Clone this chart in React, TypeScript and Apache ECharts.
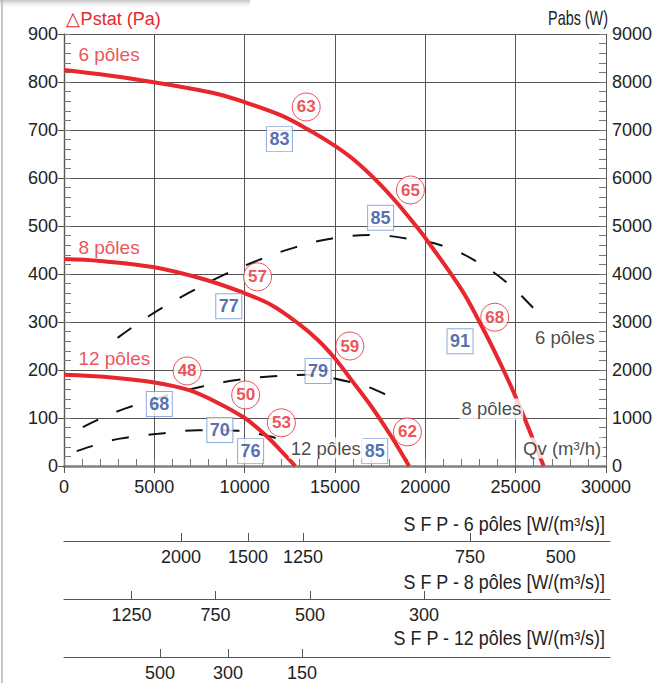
import React, { useEffect, useRef } from "react";
import * as echarts from "echarts";

// Static pressure curves (Qv m3/h, Pa)
const q6 = [0, 2000, 4176, 6923, 8500, 10000, 12051, 13700, 15000, 16080, 17363, 18462, 19377, 20000, 22000, 23000, 24000, 25000, 26550];
const ps6 = [825, 816, 804, 787, 775, 758, 730, 697, 667, 637, 592, 547, 505, 475, 368, 300, 226, 144, 0];
const q8 = [0, 2000, 5000, 7839, 10000, 11502, 12967, 14066, 15000, 15897, 16996, 18095, 19100];
const ps8 = [431, 427, 414, 388, 360, 335, 297, 262, 224, 180, 125, 63, 0];
const q12 = [0, 2500, 5000, 6923, 8388, 10000, 11136, 12051, 12800];
const ps12 = [190, 185, 174, 158, 134, 100, 65, 30, 0];

// Absorbed power curves (Qv m3/h, W)
const qw6 = [2967, 4725, 6923, 8846, 10769, 12747, 14835, 16923, 18956, 21099, 22967, 24615, 26154, 26593];
const pw6 = [2670, 3130, 3610, 3980, 4290, 4550, 4740, 4810, 4740, 4570, 4230, 3790, 3230, 3080];
const qw8 = [1044, 1978, 3407, 5275, 7473, 9560, 11593, 13516, 15714, 16813, 18297];
const pw8 = [810, 980, 1200, 1420, 1640, 1790, 1870, 1900, 1760, 1650, 1400];
const qw12 = [700, 1600, 3100, 5200, 7400, 9600, 11300, 12100];
const pw12 = [310, 420, 570, 670, 745, 735, 625, 540];

// Efficiency circles (red) and sound boxes (blue)
const circleQ = [13407, 19176, 23846, 10714, 15824, 19011, 6813, 10055, 12033];
const circleP = [748, 575, 310, 394, 250, 71, 198, 148, 90];
const circleText = ["63", "65", "68", "57", "59", "62", "48", "50", "53"];
const boxQ = [11923, 17527, 21923, 9121, 14066, 17198, 5275, 8626, 10330];
const boxP = [681, 517, 260, 333, 198, 31, 129, 75, 31];
const boxText = ["83", "85", "91", "77", "79", "85", "68", "70", "76"];

// Curve name labels
const redLabelQ = [769, 769, 769];
const redLabelP = [858, 456, 223];
const redLabelText = ["6 pôles", "8 pôles", "12 pôles"];
const blackLabelQ = [25934, 21868, 12418, 25275];
const blackLabelP = [267, 119, 37.5, 37.5];
const blackLabelText = ["6 pôles", "8 pôles", "12 pôles", "Qv (m³/h)"];

// SFP scales (position on Qv axis -> label)
const sfp6Q = [6429, 10110, 13132, 22308, 27300];
const sfp6Text = ["2000", "1500", "1250", "750", "500"];
const sfp6TickQ = [6429, 10110, 13132, 22308];
const sfp8Q = [3709, 8324, 13516, 19780];
const sfp8Text = ["1250", "750", "500", "300"];
const sfp12Q = [5275, 9011, 13077];
const sfp12Text = ["500", "300", "150"];

const RED = "#e8262d";
const BLUE_TEXT = "#2a4b9c";
const BLUE_BORDER = "#7395d6";
const SANS = '"Liberation Sans", Arial, sans-serif';

const zip = (a: number[], b: number[]) => a.map((v, i) => [v, b[i]]);
const plain = (v: number) => String(v);

function sfpAxis(grid: number, pos: number[], texts: string[], ticks: number[]) {
  return {
    gridIndex: grid,
    type: "value",
    min: 0,
    max: 30000,
    position: "bottom",
    axisLine: { show: true, lineStyle: { color: "#555", width: 1.2 } },
    axisTick: { show: true, inside: true, length: 8, customValues: ticks, lineStyle: { color: "#555", width: 1 } },
    axisLabel: {
      show: true,
      customValues: pos,
      margin: 7,
      fontSize: 18,
      fontFamily: SANS,
      color: "#222",
      formatter: (v: number) => {
        const i = pos.findIndex((p) => Math.abs(p - v) < 1);
        return i >= 0 ? texts[i] : "";
      },
    },
    splitLine: { show: false },
  };
}

export default function App() {
  const ref = useRef<HTMLDivElement>(null);
  useEffect(() => {
    document.body.style.margin = "0";
    const chart = echarts.init(ref.current!, null, { renderer: "svg" });
    const textSeries = (qs: number[], ps: number[], texts: string[], color: string, size: number, bg: boolean) => ({
      type: "scatter",
      xAxisIndex: 0,
      yAxisIndex: 0,
      symbolSize: 1,
      itemStyle: { color: "rgba(0,0,0,0)" },
      z: 6,
      data: qs.map((q, i) => [q, ps[i], texts[i]]),
      label: {
        show: true,
        position: "right",
        distance: 0,
        color,
        fontSize: size,
        fontFamily: SANS,
        backgroundColor: bg ? "#fff" : "transparent",
        padding: bg ? [1, 2] : 0,
        formatter: (p: any) => p.value[2],
      },
    });
    const titleText = (x: number, y: number, text: string, color: string, size: number, align: string, sx: number) => ({
      type: "text",
      x,
      y,
      scaleX: sx,
      style: { text, fill: color, font: `${size}px ${SANS}`, textAlign: align, textVerticalAlign: "middle" },
    });
    const option: any = {
      animation: false,
      backgroundColor: "#fff",
      grid: [
        { left: 64, top: 34, width: 546, height: 432 },
        { left: 64, top: 540, width: 546, height: 1 },
        { left: 64, top: 598, width: 546, height: 1 },
        { left: 64, top: 656, width: 546, height: 1 },
      ],
      xAxis: [
        {
          gridIndex: 0,
          type: "value",
          min: 0,
          max: 30000,
          interval: 5000,
          position: "bottom",
          axisLine: { show: true, lineStyle: { color: "#808080", width: 2.5 } },
          axisTick: { show: true, inside: false, length: 7, lineStyle: { color: "#555" } },
          axisLabel: { margin: 12, fontSize: 18, fontFamily: SANS, color: "#222", formatter: plain },
          splitLine: { show: true, lineStyle: { color: "#555", width: 1 } },
        },
        {
          gridIndex: 0,
          type: "value",
          min: 0,
          max: 30000,
          interval: 1000,
          position: "bottom",
          axisLine: { show: false },
          axisTick: { show: true, inside: true, length: 7, lineStyle: { color: "#777" } },
          axisLabel: { show: false },
          splitLine: { show: false },
        },
        sfpAxis(1, sfp6Q, sfp6Text, sfp6TickQ),
        sfpAxis(2, sfp8Q, sfp8Text, sfp8Q),
        sfpAxis(3, sfp12Q, sfp12Text, sfp12Q),
      ],
      yAxis: [
        {
          gridIndex: 0,
          type: "value",
          min: 0,
          max: 900,
          interval: 100,
          position: "left",
          axisLine: { show: true, lineStyle: { color: "#555", width: 1.2 } },
          axisTick: { show: true, inside: false, length: 6, lineStyle: { color: "#555" } },
          axisLabel: { margin: 6, fontSize: 18, fontFamily: SANS, color: "#222", formatter: plain },
          splitLine: { show: true, lineStyle: { color: "#555", width: 1 } },
        },
        {
          gridIndex: 0,
          type: "value",
          min: 0,
          max: 9000,
          interval: 1000,
          position: "right",
          axisLine: { show: true, lineStyle: { color: "#555", width: 1.2 } },
          axisTick: { show: true, inside: false, length: 6, lineStyle: { color: "#555" } },
          axisLabel: { margin: 6, fontSize: 18, fontFamily: SANS, color: "#222", formatter: plain },
          splitLine: { show: false },
        },
        {
          gridIndex: 0,
          type: "value",
          min: 0,
          max: 900,
          interval: 20,
          position: "left",
          axisLine: { show: false },
          axisTick: { show: true, inside: true, length: 7, lineStyle: { color: "#777" } },
          axisLabel: { show: false },
          splitLine: { show: false },
        },
        {
          gridIndex: 0,
          type: "value",
          min: 0,
          max: 9000,
          interval: 200,
          position: "right",
          axisLine: { show: false },
          axisTick: { show: true, inside: true, length: 7, lineStyle: { color: "#777" } },
          axisLabel: { show: false },
          splitLine: { show: false },
        },
        { gridIndex: 1, type: "value", show: false, min: 0, max: 1 },
        { gridIndex: 2, type: "value", show: false, min: 0, max: 1 },
        { gridIndex: 3, type: "value", show: false, min: 0, max: 1 },
      ],
      series: [
        ...[zip(qw6, pw6), zip(qw8, pw8), zip(qw12, pw12)].map((d) => ({
          type: "line",
          xAxisIndex: 0,
          yAxisIndex: 1,
          data: d,
          smooth: 0.4,
          symbol: "none",
          z: 2,
          lineStyle: { color: "#111", width: 2, type: [17, 20] },
        })),
        ...[zip(q6, ps6), zip(q8, ps8), zip(q12, ps12)].map((d) => ({
          type: "line",
          xAxisIndex: 0,
          yAxisIndex: 0,
          data: d,
          smooth: 0.35,
          symbol: "none",
          z: 3,
          lineStyle: { color: RED, width: 4 },
        })),
        {
          type: "scatter",
          xAxisIndex: 0,
          yAxisIndex: 0,
          symbol: "circle",
          symbolSize: 28,
          z: 5,
          itemStyle: { color: "#fff", borderColor: RED, borderWidth: 1 },
          data: circleQ.map((q, i) => [q, circleP[i], circleText[i]]),
          label: {
            show: true,
            position: "inside",
            color: RED,
            fontSize: 17,
            fontWeight: "bold",
            fontFamily: SANS,
            formatter: (p: any) => p.value[2],
          },
        },
        {
          type: "scatter",
          xAxisIndex: 0,
          yAxisIndex: 0,
          symbol: "rect",
          symbolSize: [26, 25],
          z: 5,
          itemStyle: { color: "#fff", borderColor: BLUE_BORDER, borderWidth: 1 },
          data: boxQ.map((q, i) => [q, boxP[i], boxText[i]]),
          label: {
            show: true,
            position: "inside",
            color: BLUE_TEXT,
            fontSize: 18,
            fontWeight: "bold",
            fontFamily: SANS,
            formatter: (p: any) => p.value[2],
          },
        },
        textSeries(redLabelQ, redLabelP, redLabelText, RED, 19, false),
        textSeries(blackLabelQ, blackLabelP, blackLabelText, "#1a1a1a", 18.5, true),
      ],
      graphic: [
        {
          type: "rect",
          shape: { x: 0, y: 0, width: 250, height: 9 },
          style: {
            fill: new echarts.graphic.LinearGradient(0, 0, 0, 1, [
              { offset: 0, color: "rgba(170,170,170,0.7)" },
              { offset: 1, color: "rgba(255,255,255,0)" },
            ]),
          },
          silent: true,
        },
        {
          type: "line",
          shape: { x1: 2, y1: 0, x2: 2, y2: 683 },
          style: { stroke: "#b4b4b4", lineWidth: 1.5 },
          silent: true,
        },
        titleText(66, 18, "△Pstat (Pa)", RED, 19, "left", 0.95),
        titleText(608, 18, "Pabs (W)", "#222", 20, "right", 0.72),
        titleText(605, 524, "S F P - 6 pôles [W/(m³/s)]", "#222", 20, "right", 0.895),
        titleText(605, 582, "S F P - 8 pôles [W/(m³/s)]", "#222", 20, "right", 0.895),
        titleText(605, 638, "S F P - 12 pôles [W/(m³/s)]", "#222", 20, "right", 0.895),
      ],
    };
    chart.setOption(option);
    return () => chart.dispose();
  }, []);
  return <div ref={ref} style={{ width: 655, height: 683, position: "absolute", left: 0, top: 0 }} />;
}
